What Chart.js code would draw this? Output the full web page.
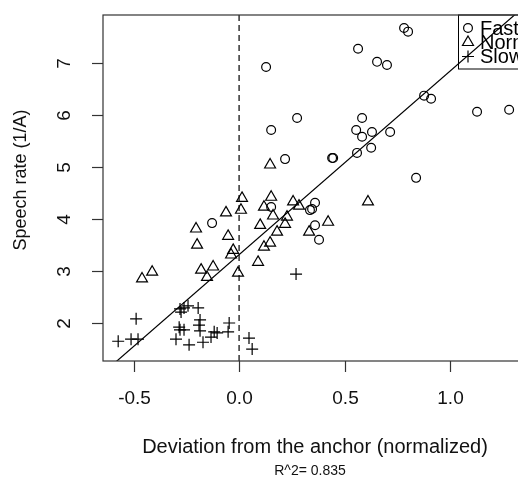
<!DOCTYPE html>
<html>
<head>
<meta charset="utf-8">
<script src="https://cdn.jsdelivr.net/npm/chart.js@4"></script>
<style>
  html, body { margin: 0; padding: 0; overflow: hidden; background: #fff; }
  #wrap { width: 560px; height: 481px; }
</style>
</head>
<body>
<div id="wrap"><canvas id="rateChart" width="560" height="481"></canvas></div>
<script>
// Speech rate vs deviation from the anchor
const fastX = [0.782, 0.801, 0.564, 0.654, 0.701, 0.128, 0.877, 0.910, 0.275, 0.152,
  0.583, 0.555, 0.583, 0.630, 0.716, 0.626, 0.559, 0.441, 0.446, 0.218,
  0.839, 1.128, 1.280, -0.128, 0.152, 0.360, 0.346, 0.336, 0.360, 0.379];
const fastY = [7.67, 7.60, 7.27, 7.02, 6.96, 6.92, 6.37, 6.31, 5.94, 5.71,
  5.94, 5.71, 5.58, 5.67, 5.67, 5.37, 5.27, 5.17, 5.17, 5.15,
  4.79, 6.06, 6.10, 3.92, 4.23, 4.31, 4.19, 4.17, 3.88, 3.60];

const normalX = [0.147, 0.014, 0.009, -0.062, -0.204, -0.199, -0.052, -0.028, -0.038, 0.152,
  0.118, 0.161, 0.100, 0.256, 0.284, 0.227, 0.218, 0.180, 0.147, 0.118,
  0.090, -0.005, -0.180, -0.123, -0.152, -0.412, -0.460, 0.332, 0.422, 0.611];
const normalY = [5.04, 4.40, 4.17, 4.12, 3.81, 3.50, 3.67, 3.40, 3.31, 4.42,
  4.23, 4.06, 3.88, 4.33, 4.25, 4.04, 3.90, 3.75, 3.54, 3.46,
  3.17, 2.96, 3.02, 3.08, 2.88, 2.98, 2.85, 3.75, 3.94, 4.33];

const slowX = [-0.488, -0.573, -0.512, -0.479, -0.280, -0.261, -0.242, -0.275, -0.194, -0.284,
  -0.280, -0.261, -0.299, -0.237, -0.185, -0.190, -0.185, -0.171, -0.133, -0.118,
  -0.104, -0.047, -0.052, 0.047, 0.062, 0.270];
const slowY = [2.08, 1.65, 1.69, 1.69, 2.27, 2.29, 2.33, 2.21, 2.29, 1.92,
  1.87, 1.87, 1.69, 1.58, 2.06, 1.96, 1.85, 1.63, 1.73, 1.83,
  1.81, 2.00, 1.83, 1.71, 1.50, 2.94];

// fitted line end points and the anchor
const fitX = [-0.65, 1.45];
const fitY = [1.02, 8.43];
const anchorX = [0, 0];

const xTicks = [-0.5, 0.0, 0.5, 1.0];
const yTicks = [2, 3, 4, 5, 6, 7];
const legendLabels = ['Fast', 'Normal', 'Slow'];

const xMin = -0.645, xMax = 1.45;
const yMin = 1.27, yMax = 7.92;

const font = '"Liberation Sans", Arial, Helvetica, sans-serif';

function pts(xs, ys) {
  return xs.map((x, i) => ({ x: x, y: ys[i] }));
}

// frame, ticks, labels and legend in R style
const rStyle = {
  id: 'rStyle',
  beforeDatasetsDraw(chart) {
    const ctx = chart.ctx;
    const a = chart.chartArea;
    ctx.save();
    // legend box
    const lx = 458.5, ly = a.top, lh = 54;
    ctx.strokeStyle = '#000';
    ctx.lineWidth = 1;
    ctx.strokeRect(lx, ly, a.right - lx, lh);
    const rows = [28, 42, 56.5];
    const sx = 468;
    ctx.lineWidth = 1.2;
    // circle
    ctx.beginPath();
    ctx.arc(sx, rows[0], 4.4, 0, Math.PI * 2);
    ctx.stroke();
    // triangle
    ctx.beginPath();
    ctx.moveTo(sx, rows[1] - 6);
    ctx.lineTo(sx + 5.5, rows[1] + 3.5);
    ctx.lineTo(sx - 5.5, rows[1] + 3.5);
    ctx.closePath();
    ctx.stroke();
    // plus
    ctx.beginPath();
    ctx.moveTo(sx - 6, rows[2]); ctx.lineTo(sx + 6, rows[2]);
    ctx.moveTo(sx, rows[2] - 6); ctx.lineTo(sx, rows[2] + 6);
    ctx.stroke();
    ctx.fillStyle = '#000';
    ctx.font = '20px ' + font;
    ctx.textBaseline = 'middle';
    ctx.textAlign = 'left';
    legendLabels.forEach((t, i) => ctx.fillText(t, 480, rows[i] + 1));
    ctx.restore();
  },
  afterDraw(chart) {
    const ctx = chart.ctx;
    const a = chart.chartArea;
    const xs = chart.scales.x, ys = chart.scales.y;
    ctx.save();
    ctx.strokeStyle = '#333';
    ctx.lineWidth = 1.2;
    ctx.strokeRect(a.left, a.top, a.right - a.left, a.bottom - a.top);
    ctx.fillStyle = '#111';
    ctx.font = '19px ' + font;
    // x axis
    ctx.textAlign = 'center';
    ctx.textBaseline = 'middle';
    xs.ticks.forEach(t => {
      const px = Math.round(xs.getPixelForValue(t.value)) + 0.5;
      ctx.beginPath();
      ctx.moveTo(px, a.bottom);
      ctx.lineTo(px, a.bottom + 11);
      ctx.stroke();
      ctx.fillText(t.value.toFixed(1), px, 399);
    });
    // y axis, labels turned like R
    ys.ticks.forEach(t => {
      const py = Math.round(ys.getPixelForValue(t.value)) + 0.5;
      ctx.beginPath();
      ctx.moveTo(a.left, py);
      ctx.lineTo(a.left - 11, py);
      ctx.stroke();
      ctx.save();
      ctx.translate(65, py);
      ctx.rotate(-Math.PI / 2);
      ctx.fillText(String(t.value), 0, 0);
      ctx.restore();
    });
    // titles
    ctx.font = '20px ' + font;
    ctx.fillText('Deviation from the anchor (normalized)', 315, 447);
    ctx.save();
    ctx.translate(21, 180);
    ctx.rotate(-Math.PI / 2);
    ctx.font = '18px ' + font;
    ctx.fillText('Speech rate (1/A)', 0, 0);
    ctx.restore();
    ctx.font = '14px ' + font;
    ctx.fillText('R^2= 0.835', 310, 471);
    ctx.restore();
  }
};

const rateChart = new Chart(document.getElementById('rateChart'), {
  type: 'scatter',
  data: {
    datasets: [{
      label: 'anchor',
      data: [{ x: anchorX[0], y: yMin }, { x: anchorX[1], y: yMax }],
      showLine: true,
      borderColor: '#000',
      borderWidth: 1.2,
      borderDash: [6, 4],
      pointRadius: 0
    }, {
      label: 'fit',
      data: pts(fitX, fitY),
      showLine: true,
      borderColor: '#000',
      borderWidth: 1.2,
      pointRadius: 0
    }, {
      label: 'Fast',
      data: pts(fastX, fastY),
      pointStyle: 'circle',
      pointRadius: 4.4,
      borderColor: '#000',
      backgroundColor: 'rgba(0,0,0,0)',
      borderWidth: 1.2
    }, {
      label: 'Normal',
      data: pts(normalX, normalY),
      pointStyle: 'triangle',
      pointRadius: 6.3,
      borderColor: '#000',
      backgroundColor: 'rgba(0,0,0,0)',
      borderWidth: 1.2
    }, {
      label: 'Slow',
      data: pts(slowX, slowY),
      pointStyle: 'cross',
      pointRadius: 6,
      borderColor: '#000',
      backgroundColor: 'rgba(0,0,0,0)',
      borderWidth: 1.2
    }]
  },
  options: {
    responsive: false,
    animation: false,
    layout: { padding: { top: 15, right: 15, left: 0, bottom: 0 } },
    plugins: {
      legend: { display: false },
      tooltip: { enabled: false }
    },
    scales: {
      x: {
        type: 'linear',
        min: xMin,
        max: xMax,
        grid: { display: false },
        border: { display: false },
        ticks: { display: false },
        afterBuildTicks: s => { s.ticks = xTicks.map(v => ({ value: v })); },
        afterFit: s => { s.height = 120; }
      },
      y: {
        type: 'linear',
        min: yMin,
        max: yMax,
        grid: { display: false },
        border: { display: false },
        ticks: { display: false },
        afterBuildTicks: s => { s.ticks = yTicks.map(v => ({ value: v })); },
        afterFit: s => { s.width = 103; }
      }
    }
  },
  plugins: [rStyle]
});
</script>
</body>
</html>
